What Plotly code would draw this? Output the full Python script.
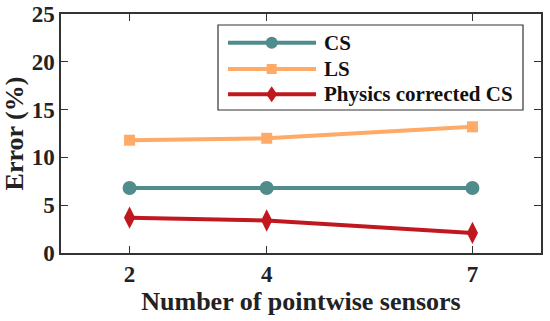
import plotly.graph_objects as go

sensors = [2, 4, 7]
cs = [6.8, 6.8, 6.8]
ls = [11.8, 12.0, 13.2]
pcs = [3.7, 3.4, 2.1]
names = ["CS", "LS", "Physics corrected CS"]
colors = ["#4F8C8B", "#FFAA66", "#C0181E"]
symbols = ["circle", "square", "diamond-tall"]
sizes = [14, 11, 16]
yticks = [0, 5, 10, 15, 20, 25]

W, H = 550, 321
L, R, T, B = 61, 9, 14, 68
pw, ph = W - L - R, H - T - B

def px(x):
    return (x - L) / pw

def py(y):
    return (H - B - y) / ph

fig = go.Figure()
for vals, n, c, s, sz in zip([cs, ls, pcs], names, colors, symbols, sizes):
    fig.add_trace(go.Scatter(x=sensors, y=vals, name=n, mode="lines+markers",
                             line=dict(color=c, width=4),
                             marker=dict(symbol=s, size=sz, color=c),
                             showlegend=False))

font = "Liberation Serif"
ax = dict(showline=True, linecolor="#333", linewidth=1.5, mirror="ticks",
          ticks="inside", ticklen=7, tickcolor="#333", tickwidth=1.2,
          showgrid=False, zeroline=False, automargin=False,
          tickfont=dict(family=font, size=23, color="#222"))
fig.update_xaxes(range=[1, 8], tickvals=sensors, ticktext=["<b>%d</b>" % v for v in sensors],
                 title=dict(text="<b>Number of pointwise sensors</b>",
                            font=dict(family=font, size=26, color="#222"), standoff=2),
                 **ax)
fig.update_yaxes(range=[0, 25], tickvals=yticks, ticktext=["<b>%d</b>" % v for v in yticks],
                 title=dict(text="<b>Error (%)</b>",
                            font=dict(family=font, size=26, color="#222"), standoff=2),
                 **ax)

# custom legend
shapes = [dict(type="rect", xref="paper", yref="paper",
               x0=px(218), x1=px(523), y0=py(110), y1=py(25),
               line=dict(color="#333", width=1.2), fillcolor="white")]
ann = []
ys = [42.7, 69, 94.3]
for i, (n, c, s) in enumerate(zip(names, colors, symbols)):
    y = ys[i]
    shapes.append(dict(type="line", xref="paper", yref="paper",
                       x0=px(228), x1=px(316), y0=py(y), y1=py(y),
                       line=dict(color=c, width=4)))
    mx = 271.7
    if s == "circle":
        r = 6
        shapes.append(dict(type="circle", xref="paper", yref="paper",
                           x0=px(mx - r), x1=px(mx + r), y0=py(y + r), y1=py(y - r),
                           fillcolor=c, line=dict(color=c, width=0)))
    elif s == "square":
        r = 5
        shapes.append(dict(type="rect", xref="paper", yref="paper",
                           x0=px(mx - r), x1=px(mx + r), y0=py(y + r), y1=py(y - r),
                           fillcolor=c, line=dict(color=c, width=0)))
    else:
        rx, ry = 5.5, 8
        path = "M %f %f L %f %f L %f %f L %f %f Z" % (
            px(mx - rx), py(y), px(mx), py(y - ry), px(mx + rx), py(y), px(mx), py(y + ry))
        shapes.append(dict(type="path", xref="paper", yref="paper", path=path,
                           fillcolor=c, line=dict(color=c, width=0)))
    ann.append(dict(xref="paper", yref="paper", x=px(322), y=py(y), xanchor="left",
                    yanchor="middle", showarrow=False, text="<b>%s</b>" % n,
                    font=dict(family=font, size=21, color="#111")))

fig.update_layout(width=W, height=H, margin=dict(l=L, r=R, t=T, b=B),
                  plot_bgcolor="white", paper_bgcolor="white",
                  shapes=shapes, annotations=ann, showlegend=False)
fig.write_html("out.html", config={"displayModeBar": False},
               post_script="document.body.style.margin='0';")
